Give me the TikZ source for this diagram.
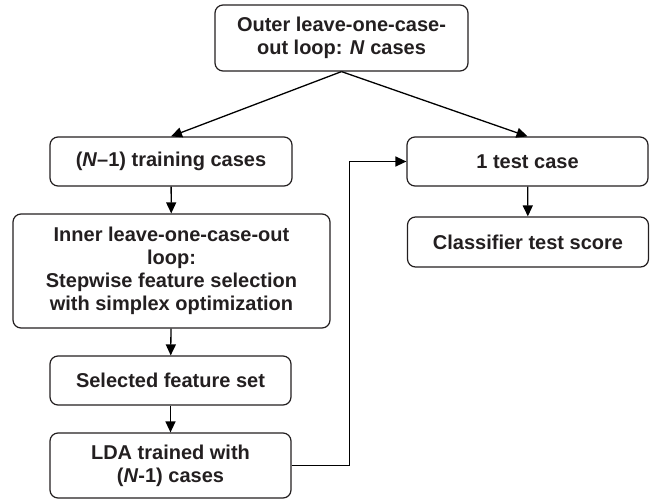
\documentclass[tikz,border=0pt]{standalone}
\usepackage{fontspec}
\setmainfont{Liberation Sans}
\usetikzlibrary{arrows.meta}
\definecolor{ink}{HTML}{231F20}
\begin{document}
\begin{tikzpicture}[x=1pt,y=-1pt,
		box/.style={draw=ink,line width=1.2pt,rounded corners=8pt,align=center,
			text=ink,font=\fontsize{20}{23}\selectfont\bfseries,inner sep=0pt},
		flow/.style={draw=black,line width=1.3pt,-{Triangle[length=11pt,width=10pt]}}]
			\useasboundingbox (0,0) rectangle (652,500);
			\node[box,minimum width=253,minimum height=66] (outer) at (341.5,38)
				{Outer leave-one-case-\\out loop: \textit{N} cases};
			\node[box,minimum width=242,minimum height=49] (train) at (171,161.5)
				{(\textit{N}--1) training cases};
			\node[box,minimum width=317,minimum height=114] (inner) at (171.5,271)
				{Inner leave-one-case-out\\loop:\\Stepwise feature selection\\with simplex optimization};
			\node[box,minimum width=241,minimum height=49] (selected) at (170.5,380.5)
				{Selected feature set};
			\node[box,minimum width=241,minimum height=65] (lda) at (170.5,465.5)
				{LDA trained with\\(\textit{N}-1) cases};
			\node[box,minimum width=241,minimum height=49] (test) at (527.5,161.5)
				{1 test case};
			\node[box,minimum width=241,minimum height=50] (score) at (528,242)
				{Classifier test score};
			\draw[flow] (outer.south) -- (train.north);
			\draw[flow] (outer.south) -- (test.north);
			\draw[flow] (train) -- (inner);
			\draw[flow] (inner) -- (selected);
			\draw[flow] (selected) -- (lda);
			\draw[flow] (test) -- (score);
			\draw[flow] (lda.east) -- (349.5,465.5) |- (test.west);
		\end{tikzpicture}
\end{document}
